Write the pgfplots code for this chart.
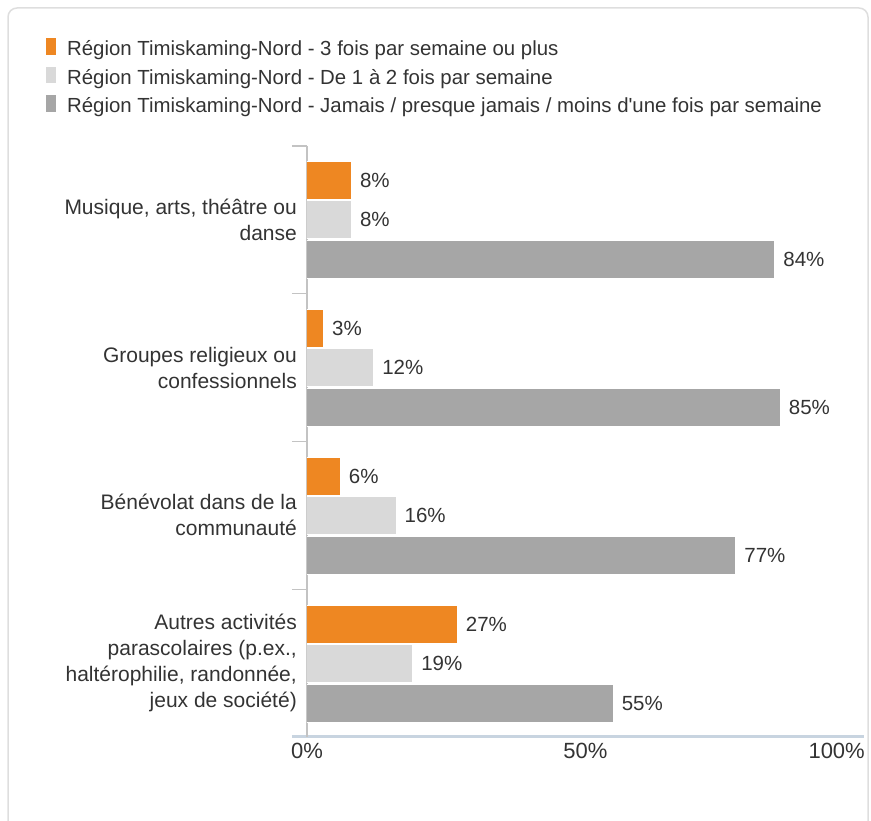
\documentclass[border=0pt]{standalone}
\usepackage{fontspec}
\setmainfont{Liberation Sans}
\usepackage{pgfplots}
\pgfplotsset{compat=1.18}
\definecolor{orangebar}{RGB}{238,135,34}
\definecolor{lightbar}{RGB}{217,217,217}
\definecolor{darkbar}{RGB}{166,166,166}
\definecolor{txt}{RGB}{51,51,51}
\definecolor{axisblue}{RGB}{200,212,224}
\definecolor{axisgray}{RGB}{195,195,195}
\definecolor{framegray}{RGB}{222,222,222}

\begin{document}
\begin{tikzpicture}[x=1pt,y=1pt]
\useasboundingbox (0,0) rectangle (871,821);
\draw[framegray, line width=1.5pt, rounded corners=9pt] (8,-20) -- (8,813) -- (868,813) -- (868,-20);
\begin{axis}[
    at={(307pt,84pt)}, anchor=south west,
    scale only axis, width=557pt, height=591pt,
    xbar, bar width=38pt,
    xmin=0, xmax=100, ymin=0.5, ymax=4.5,
    axis x line*=bottom, axis y line*=left,
    x axis line style={axisblue, line width=3pt, shorten <=-15pt, -},
    y axis line style={axisgray, line width=1.5pt, -},
    xtick={0,50}, xticklabels={0\%,50\%},
    extra x ticks={100}, extra x tick labels={100\%},
    extra x tick style={xticklabel style={anchor=north east, xshift=1pt}},
    xticklabel style={font=\fontsize{22}{26}\selectfont, text=txt, inner sep=0pt, yshift=-6pt},
    ytick={1,2,3,4},
    yticklabels={{Autres activités\\parascolaires (p.ex.,\\haltérophilie, randonnée,\\jeux de société)},
                 {Bénévolat dans de la\\communauté},
                 {Groupes religieux ou\\confessionnels},
                 {Musique, arts, théâtre ou\\danse}},
    yticklabel style={font=\fontsize{21}{26}\selectfont, text=txt, align=right, inner sep=0pt, xshift=-10pt},
    minor ytick={1.5,2.5,3.5,4.5},
    tick align=outside, major tick length=0pt, minor tick length=15pt,
    minor tick style={axisgray, line width=1.2pt},
    nodes near coords={\pgfmathprintnumber{\pgfplotspointmeta}\%},
    /pgf/number format/assume math mode=true,
    every node near coord/.append style={font=\fontsize{20.5}{24}\selectfont, text=txt, anchor=west, inner sep=0pt, xshift=8pt},
    legend style={at={(axis description cs:-0.4705,1.184)}, anchor=north west,
        draw=none, fill=none, inner sep=0pt, row sep=5pt, column sep=10pt,
        font=\fontsize{20.4}{24}\selectfont, text=txt,
        nodes={inner sep=0pt, text height=15pt, text depth=5pt}},
    legend cell align=left,
    legend image code/.code={\fill[#1] (0pt,-4.5pt) rectangle (11pt,13pt);},
]
\addplot[fill=orangebar, draw=white, line width=1pt, bar shift=39pt]
    coordinates {(8,4) (3,3) (6,2) (27,1)};
\addlegendentry{Région Timiskaming-Nord - 3 fois par semaine ou plus}
\addplot[fill=lightbar, draw=white, line width=1pt, bar shift=0pt]
    coordinates {(8,4) (12,3) (16,2) (19,1)};
\addlegendentry{Région Timiskaming-Nord - De 1 à 2 fois par semaine}
\addplot[fill=darkbar, draw=white, line width=1pt, bar shift=-40pt]
    coordinates {(84,4) (85,3) (77,2) (55,1)};
\addlegendentry{Région Timiskaming-Nord - Jamais / presque jamais / moins d\textquotesingle une fois par semaine}
\end{axis}
\end{tikzpicture}
\end{document}
